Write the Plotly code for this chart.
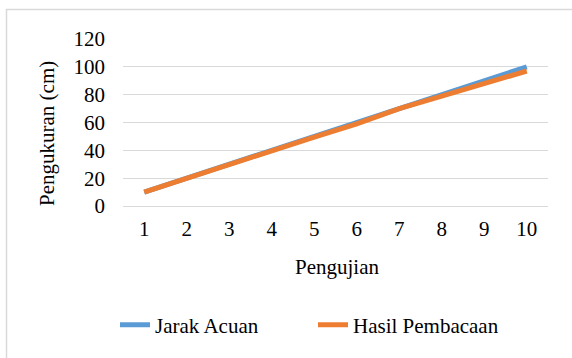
import plotly.graph_objects as go

pengujian = ["1", "2", "3", "4", "5", "6", "7", "8", "9", "10"]
jarak_acuan = [10, 20, 30, 40, 50, 60, 70, 80, 90, 100]
hasil_pembacaan = [10, 20, 30, 39.5, 49.5, 59, 70, 79, 88, 97]

y_ticks = [0, 20, 40, 60, 80, 100, 120]

FONT = "Liberation Serif"
FS = 21
GRID = "#d9d9d9"

fig = go.Figure()
fig.add_trace(go.Scatter(x=pengujian, y=jarak_acuan, mode="lines", name="Jarak Acuan",
                         line=dict(color="#5B9BD5", width=5)))
fig.add_trace(go.Scatter(x=pengujian, y=hasil_pembacaan, mode="lines", name="Hasil Pembacaan",
                         line=dict(color="#ED7D31", width=5)))

L, R, T, B = 123, 24, 39, 152
W, H = 572, 358
pw, ph = W - L - R, H - T - B

def px(x):
    return (x - L) / pw

def py(y):
    return (H - B - y) / ph

fig.update_layout(
    width=W, height=H,
    margin=dict(l=L, r=R, t=T, b=B, autoexpand=False),
    paper_bgcolor="white", plot_bgcolor="white",
    font=dict(family=FONT, size=FS, color="#000000"),
    showlegend=True,
    legend=dict(orientation="h", x=px(115), xanchor="left", y=py(325), yanchor="middle",
                font=dict(family=FONT, size=FS), entrywidth=153, entrywidthmode="pixels",
                bgcolor="rgba(0,0,0,0)", itemwidth=30),
    xaxis=dict(type="category", range=[-0.5, 9.5], showgrid=False, showline=False, zeroline=False,
               ticks="", ticklabelstandoff=8, tickfont=dict(family=FONT, size=FS), automargin=False),
    yaxis=dict(range=[0, 120], tickvals=y_ticks, showgrid=True, gridcolor=GRID, gridwidth=1.3,
               zeroline=True, zerolinecolor=GRID, zerolinewidth=1.3, showline=False,
               ticks="", ticklabelstandoff=17, tickfont=dict(family=FONT, size=FS), automargin=False),
    shapes=[
        dict(type="line", xref="paper", yref="paper", x0=px(6), x1=px(600), y0=py(9.5), y1=py(9.5),
             line=dict(color=GRID, width=1.5)),
        dict(type="line", xref="paper", yref="paper", x0=px(6.5), x1=px(6.5), y0=py(9), y1=py(400),
             line=dict(color=GRID, width=1.5)),
    ],
    annotations=[
        dict(text="Pengujian", xref="paper", yref="paper", x=px(337), y=py(267),
             xanchor="center", yanchor="middle", showarrow=False, font=dict(family=FONT, size=FS)),
        dict(text="Pengukuran (cm)", xref="paper", yref="paper", x=px(47), y=py(134),
             xanchor="center", yanchor="middle", showarrow=False, textangle=-90,
             font=dict(family=FONT, size=FS)),
    ],
)

fig.write_html("out.html")
